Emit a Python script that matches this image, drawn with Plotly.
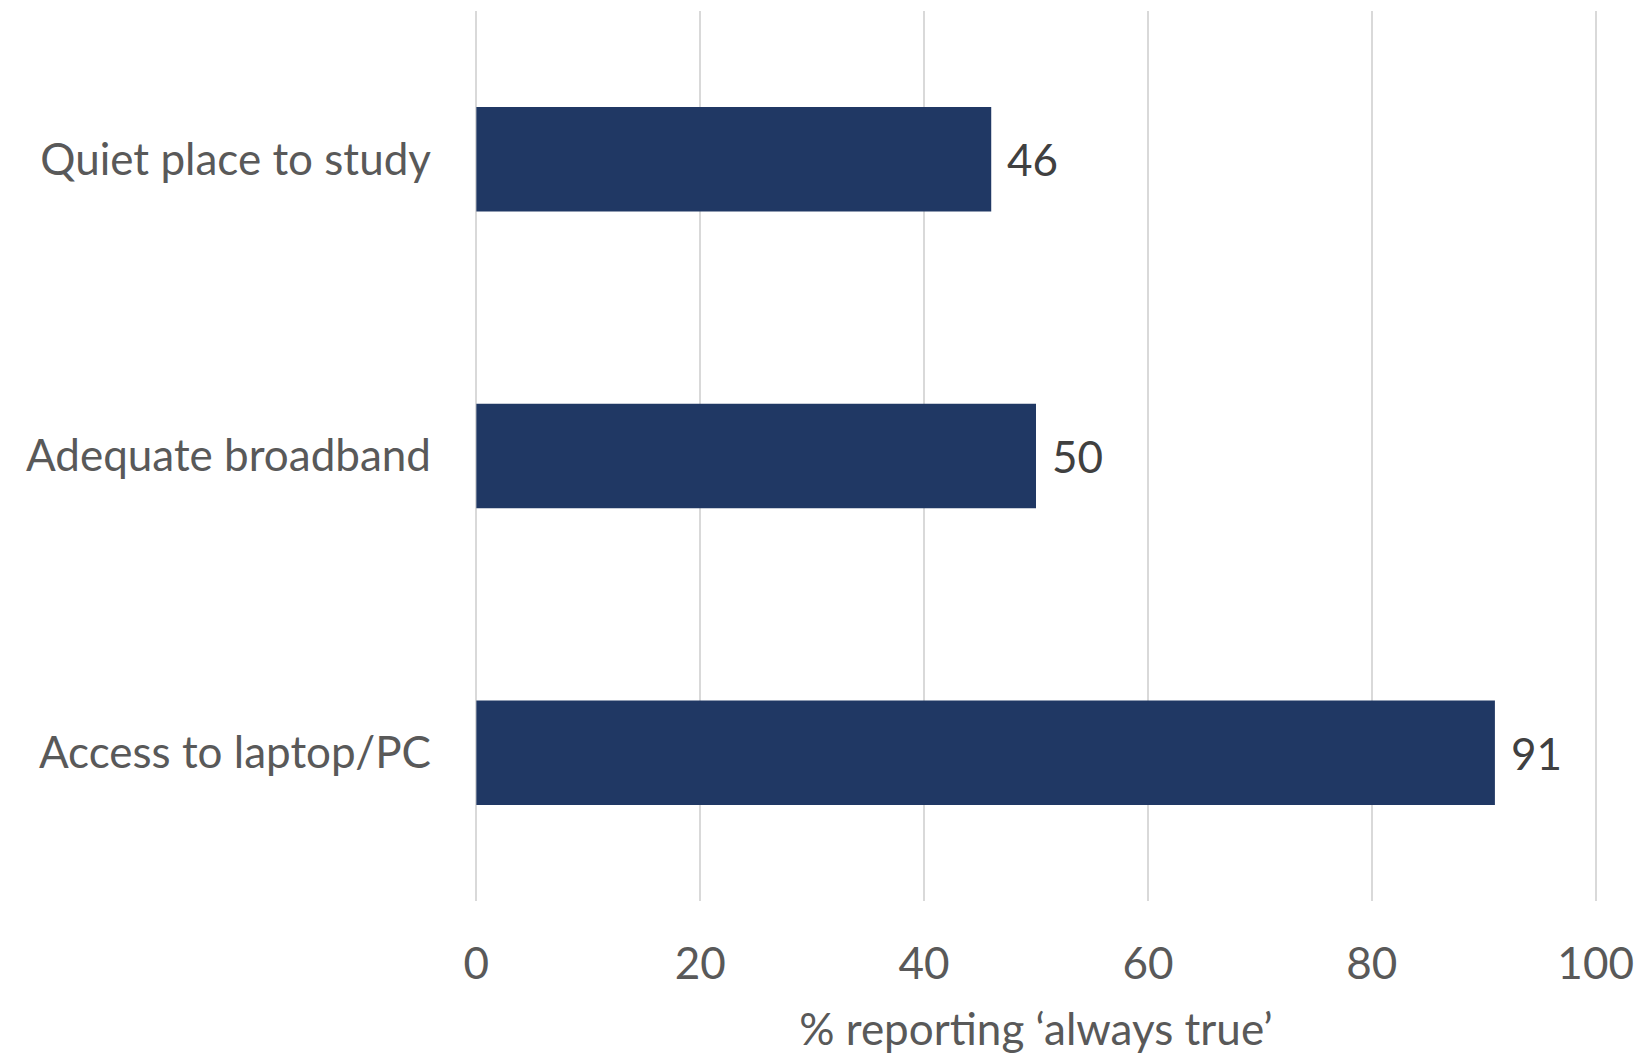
import plotly.graph_objects as go

categories = ["Access to laptop/PC", "Adequate broadband", "Quiet place to study"]
values = [91, 50, 46]
x_ticks = [0, 20, 40, 60, 80, 100]

FONT = "Lato, Calibri, sans-serif"
SIZE = 44

fig = go.Figure(go.Bar(
    y=categories, x=values, orientation="h",
    marker=dict(color="#203864", line=dict(width=0)),
    width=0.352,
))

for c, v in zip(categories, values):
    fig.add_annotation(
        x=v, y=c, text=str(v), showarrow=False, xanchor="left", yanchor="middle",
        xshift=14, font=dict(family=FONT, size=SIZE, color="#404040"),
    )

fig.update_layout(
    width=1640, height=1054,
    margin=dict(l=472.6, r=40.6, t=11, b=153),
    paper_bgcolor="white", plot_bgcolor="white",
    showlegend=False,
    font=dict(family=FONT, color="#595959"),
    xaxis=dict(
        range=[-0.3, 100.3], tickvals=x_ticks, showgrid=True, gridcolor="#D9D9D9",
        gridwidth=2, zeroline=False, showline=False, ticks="", automargin=False,
        tickfont=dict(size=SIZE, color="#595959", family=FONT),
        ticklabelstandoff=33,
        title=dict(text="% reporting ‘always true’", font=dict(size=SIZE, color="#595959", family=FONT), standoff=30),
    ),
    yaxis=dict(
        categoryorder="array", categoryarray=categories,
        showgrid=False, zeroline=False, showline=False, ticks="", automargin=False,
        tickfont=dict(size=SIZE, color="#595959", family=FONT),
        ticklabelstandoff=41,
    ),
)

fig.write_html("out.html")
